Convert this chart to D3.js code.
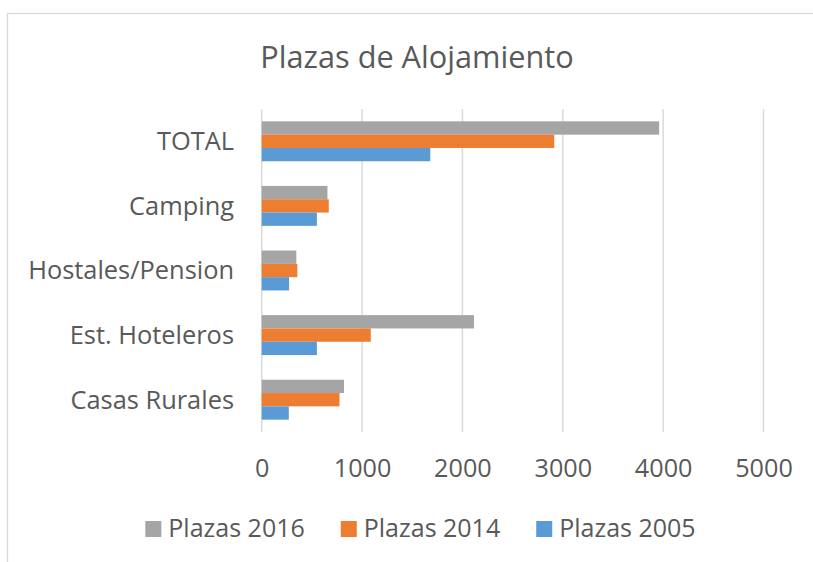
<!DOCTYPE html>
<html>
<head>
<meta charset="utf-8">
<script src="https://cdn.jsdelivr.net/npm/d3@7"></script>
<style>
  body { margin: 0; background: #fff; }
  text { font-family: "Open Sans", sans-serif; fill: #595959; }
</style>
</head>
<body>
<div id="chart"></div>
<script>
const categories = ["TOTAL", "Camping", "Hostales/Pension", "Est. Hoteleros", "Casas Rurales"];
const seriesNames = ["Plazas 2016", "Plazas 2014", "Plazas 2005"];
const plazas2016 = [3960, 655, 345, 2115, 820];
const plazas2014 = [2915, 668, 355, 1087, 775];
const plazas2005 = [1680, 550, 273, 550, 270];
const xTicks = [0, 1000, 2000, 3000, 4000, 5000];
const colors = ["#A5A5A5", "#ED7D31", "#5B9BD5"];

const seriesValues = [plazas2016, plazas2014, plazas2005];
const W = 813, H = 562;
const svg = d3.select("#chart").append("svg")
    .attr("width", W)
    .attr("height", H);

// outer frame (runs off the right and bottom edges)
svg.append("rect")
    .attr("x", 7.5).attr("y", 13.5)
    .attr("width", 900).attr("height", 700)
    .attr("fill", "none")
    .attr("stroke", "#D9D9D9")
    .attr("stroke-width", 1.3);

svg.append("text")
    .attr("x", 417).attr("y", 68)
    .attr("text-anchor", "middle")
    .style("font-size", "30.7px")
    .text("Plazas de Alojamiento");

const x = d3.scaleLinear().domain([0, 5000]).range([261.7, 763.5]);
const y = d3.scaleBand().domain(categories).range([109, 432])
    .paddingInner(0.382).paddingOuter(0.191);
const ySub = d3.scaleBand().domain(seriesNames).range([0, y.bandwidth()]);

// gridlines
svg.append("g")
    .selectAll("line")
    .data(xTicks)
    .join("line")
    .attr("x1", d => x(d)).attr("x2", d => x(d))
    .attr("y1", 109).attr("y2", 432)
    .attr("stroke", "#D9D9D9")
    .attr("stroke-width", 1.5);

// bars
seriesNames.forEach((name, i) => {
    svg.append("g")
        .attr("fill", colors[i])
        .selectAll("rect")
        .data(categories)
        .join("rect")
        .attr("x", x(0))
        .attr("y", c => y(c) + ySub(name))
        .attr("width", (c, j) => x(seriesValues[i][j]) - x(0))
        .attr("height", ySub.bandwidth());
});

// x axis labels
const xAxis = svg.append("g")
    .attr("transform", "translate(0,432)")
    .call(d3.axisBottom(x).tickValues(xTicks).tickSize(0).tickPadding(0).tickFormat(d3.format("d")));
xAxis.select(".domain").remove();
xAxis.selectAll("text")
    .attr("y", 45).attr("dy", 0)
    .style("font-size", "25.2px")
    .attr("fill", "#595959");

// category labels
const yAxis = svg.append("g")
    .attr("transform", "translate(234,0)")
    .call(d3.axisLeft(y).tickSize(0).tickPadding(0));
yAxis.select(".domain").remove();
yAxis.selectAll("text")
    .attr("x", 0).attr("dy", "0.35em")
    .style("font-size", "25.4px")
    .attr("fill", "#595959");

// legend
const legend = svg.append("g");
const items = legend.selectAll("g")
    .data(seriesNames)
    .join("g");
items.append("rect")
    .attr("y", 521)
    .attr("width", 16).attr("height", 16)
    .attr("fill", (d, i) => colors[i]);
items.append("text")
    .attr("x", 23).attr("y", 537)
    .style("font-size", "25px")
    .text(d => d);
let cursor = 0;
const gap = 36;
items.each(function () {
    const w = this.querySelector("text").getComputedTextLength() + 23;
    d3.select(this).attr("transform", `translate(${cursor},0)`);
    cursor += w + gap;
});
const legendWidth = cursor - gap;
legend.attr("transform", `translate(${420.5 - legendWidth / 2},0)`);
</script>
</body>
</html>
